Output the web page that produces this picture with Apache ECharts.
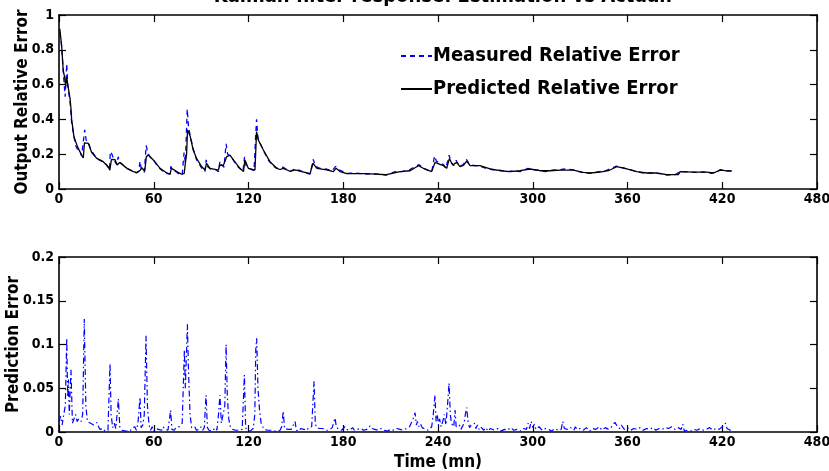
<!DOCTYPE html>
<html>
<head>
<meta charset="utf-8">
<script src="https://cdn.jsdelivr.net/npm/echarts@6/dist/echarts.min.js"></script>
<style>
html,body{margin:0;padding:0;background:#fff;}
#chart{width:829px;height:471px;}
</style>
</head>
<body>
<div id="chart"></div>
<script>
// ---- Data ----
const titleText = 'Kalman filter response: Estimation vs Actual.';
const xTicks = [0, 60, 120, 180, 240, 300, 360, 420, 480];
const topYTicks = [0, 0.2, 0.4, 0.6, 0.8, 1];
const bottomYTicks = [0, 0.05, 0.1, 0.15, 0.2];

const predictedT = [0.5,1.7,2.7,3.6,4.2,4.9,5.9,7,7.6,8,9.5,11.6,14.3,15.4,16.1,18.6,20.7,23.9,28,31.2,32.2,33.2,35.5,36.9,38.4,42.9,47,49.2,51.5,52.4,54.3,55.3,56.6,59.7,64,68.2,70.3,71.2,74.6,77.7,79.3,80,80.8,81.4,83,85,87.1,90.4,92.5,93.4,95.6,100.9,101.8,104,106.2,108.3,110.4,114.6,116.8,117.7,119.9,124.1,125.1,126.3,129.4,133.6,137.9,140,142,146.3,149.5,153.7,159,160.8,163.3,169.5,173.7,175.4,178,182.2,188,194.9,200,207.5,213.8,216,222.3,227.6,230.7,236,238.1,241.3,243.4,245.5,247.2,249.3,251.8,253.9,256,258.2,260.3,266.6,273,279.3,285.6,292,298.3,304.6,311,317.3,325.7,332,336.3,342.6,347.9,353.2,359.5,365.9,372.2,378.5,384.8,392.2,393.3,401.7,410.2,414.4,418.6,422,426];
const predictedV = [0.92,0.82,0.68,0.64,0.59,0.64,0.58,0.52,0.46,0.40,0.30,0.245,0.195,0.178,0.265,0.262,0.21,0.176,0.157,0.128,0.108,0.17,0.168,0.138,0.152,0.12,0.1,0.095,0.108,0.123,0.102,0.186,0.195,0.167,0.119,0.092,0.086,0.119,0.1,0.085,0.09,0.148,0.2,0.34,0.305,0.224,0.176,0.128,0.109,0.148,0.119,0.109,0.138,0.134,0.186,0.195,0.167,0.119,0.1,0.167,0.119,0.109,0.33,0.28,0.224,0.157,0.119,0.112,0.119,0.102,0.11,0.1,0.088,0.148,0.119,0.11,0.1,0.119,0.1,0.088,0.088,0.088,0.085,0.082,0.095,0.1,0.105,0.134,0.119,0.1,0.153,0.142,0.134,0.119,0.175,0.138,0.153,0.128,0.135,0.16,0.134,0.134,0.115,0.105,0.1,0.105,0.115,0.105,0.105,0.109,0.109,0.095,0.092,0.097,0.105,0.128,0.115,0.1,0.092,0.092,0.083,0.083,0.1,0.097,0.097,0.092,0.109,0.105,0.103];

const measuredT = [0.5,1.5,2.5,3.3,3.9,4.9,5.5,6.2,7,8,9.5,10.5,11.6,13,14.3,15.4,16.3,17.2,18.6,20,22,24,27,30,32,32.5,33.5,35,36.5,37.5,38.5,41,43,46,49,50.5,51.3,52,54,55.2,56.5,58,60,63,66,68,70.3,70.8,72,74,76,78,79.2,80,81.2,82,83,85,87,90,92.4,93.2,94,96,99,101,101.9,103,104.5,105.8,106.8,108.5,110.5,113,116.5,117.5,118.5,120,123.5,124.5,125.1,126,127,129.5,133,136,138,142,146,149.5,153,157,159,161,162.5,165,169,173,175.2,177,180,183,188,194,200,207,213,216,222,225.5,228,231,236,237.8,239,241,243.5,245,247,248.5,250,251.5,253.5,256,258,260,263,267,270,274,279,284,288,292,297,300,304,308,312,316,320,326,331,336,341,346,350,353,356,360,366,371,376,381,385,390,393.5,398,403,408,413,417,419,422,426];
const measuredV = [0.90,0.84,0.7,0.6,0.53,0.72,0.6,0.55,0.5,0.38,0.3,0.25,0.23,0.22,0.19,0.18,0.34,0.28,0.27,0.23,0.2,0.175,0.16,0.14,0.11,0.215,0.2,0.165,0.14,0.185,0.155,0.135,0.118,0.105,0.092,0.1,0.16,0.12,0.095,0.25,0.2,0.18,0.165,0.125,0.1,0.09,0.085,0.13,0.11,0.1,0.085,0.08,0.21,0.15,0.46,0.36,0.31,0.23,0.17,0.125,0.1,0.167,0.13,0.115,0.112,0.1,0.16,0.14,0.125,0.26,0.2,0.19,0.165,0.13,0.1,0.185,0.13,0.12,0.105,0.3,0.40,0.29,0.28,0.22,0.16,0.13,0.118,0.125,0.1,0.115,0.105,0.09,0.085,0.17,0.13,0.12,0.115,0.105,0.13,0.11,0.1,0.09,0.092,0.085,0.088,0.08,0.1,0.098,0.11,0.13,0.14,0.118,0.098,0.19,0.16,0.15,0.14,0.12,0.195,0.15,0.135,0.165,0.13,0.14,0.17,0.14,0.135,0.13,0.12,0.112,0.108,0.1,0.105,0.1,0.118,0.11,0.108,0.1,0.108,0.11,0.115,0.11,0.095,0.09,0.098,0.105,0.12,0.132,0.125,0.115,0.1,0.09,0.092,0.088,0.08,0.082,0.1,0.098,0.096,0.098,0.09,0.1,0.112,0.105,0.104];

const errorT = [0,1,2,3,4,4.9,5.5,6,6.5,7.6,8.5,9.5,10.5,11.5,12.5,14,15,16,17,18,19,20,21,22,23,24,25,26,27,28,29,30,31,32.3,33,34,35,36,37.6,38.5,40,41,42,43,45,46,47,48,49,50,51.3,52,53,54,55.1,56,57,58,59,60,61,62,63,64,65,66,67,68,69,70.7,71.5,72,73,74,75,76,77,78,79.4,80,81.3,82,83,84,85,86,87,88,89,90,91,92,93.1,94,95,96,97,98,99,100,101,101.9,102.8,104,105,105.8,106.6,107.5,108.5,110,111,112,113,114,115,116,117.4,118.2,119,120,121,122,123,124,124.6,125.2,126,127,128,129,130,131,132,133,134,135,136,137,138,139,140,141,142,142.8,144,145,146,147,148,149.5,150.3,151,152,153,154,155,156,157,158,159,160,161.5,162.3,163,164,165,166,167,168,169,170,171,172,173,174.8,175.6,176,177,178,179,180,181,182,183,184,185,186,187,188,189,190,191,192,193,194,195,196,197,198,199,200,202,204,206,208,210,212,214,216,218,220,222,224.4,225.5,226.3,227,228,229,230,231,232,233,234,235,236,237,238.1,238.8,239.5,240.3,241,242,243,244,245,246,247,247.8,248.5,249.3,250,250.8,251.5,252.5,253.5,254.5,255.5,256.5,257.3,258.2,259,260,261,262,263,264,265,266,267,268,269,270,271,272,273,274,276,278,280,282,284,286,288,290,292,294,296,297,298,299,300,301,302,304,306,308,310,312,314,316,318,319,320,322,324,326,327,328,330,332,334,336,338,340,342,344,346,348,350,351,352,353,354,355,356,358,360,362,364,366,368,370,372,374,376,378,380,382,384,386,388,390,392,394,395,396,398,400,402,404,406,408,410,412,414,416,418,420,421,422,423,424,425,426];
const errorV = [0.012,0.018,0.008,0.02,0.03,0.107,0.04,0.06,0.02,0.071,0.01,0.015,0.02,0.012,0.015,0.012,0.02,0.129,0.03,0.012,0.014,0.01,0.012,0.008,0.01,0.011,0.006,0.003,0.002,0.004,0.001,0.003,0.002,0.078,0.02,0.005,0.01,0.004,0.038,0.006,0.002,0.004,0.001,0.003,0.001,0.004,0.002,0.006,0.002,0.01,0.04,0.005,0.008,0.02,0.11,0.03,0.008,0.002,0.006,0.001,0.004,0.006,0.003,0.005,0.002,0.006,0.003,0.004,0.002,0.025,0.003,0.004,0.002,0.005,0.003,0.006,0.004,0.01,0.094,0.05,0.123,0.07,0.02,0.005,0.003,0.006,0.002,0.004,0.003,0.006,0.002,0.005,0.042,0.005,0.002,0.004,0.001,0.003,0.005,0.002,0.02,0.042,0.01,0.008,0.03,0.1,0.04,0.015,0.006,0.003,0.005,0.002,0.004,0.002,0.004,0.003,0.065,0.005,0.002,0.004,0.001,0.003,0.004,0.02,0.094,0.107,0.05,0.025,0.01,0.006,0.003,0.005,0.002,0.004,0.002,0.003,0.001,0.003,0.001,0.003,0.002,0.006,0.024,0.004,0.002,0.003,0.001,0.003,0.002,0.012,0.002,0.003,0.001,0.004,0.002,0.003,0.004,0.002,0.005,0.003,0.006,0.058,0.01,0.005,0.003,0.004,0.002,0.004,0.003,0.002,0.004,0.002,0.003,0.005,0.016,0.006,0.008,0.003,0.005,0.002,0.004,0.006,0.003,0.004,0.002,0.003,0.005,0.002,0.004,0.003,0.002,0.004,0.003,0.002,0.004,0.003,0.005,0.007,0.004,0.002,0.003,0.002,0.004,0.002,0.001,0.003,0.002,0.004,0.003,0.002,0.004,0.006,0.016,0.022,0.008,0.012,0.006,0.009,0.005,0.006,0.003,0.004,0.002,0.003,0.006,0.02,0.042,0.012,0.02,0.008,0.015,0.006,0.012,0.02,0.008,0.03,0.056,0.02,0.01,0.012,0.006,0.025,0.006,0.004,0.008,0.003,0.005,0.01,0.02,0.028,0.012,0.005,0.008,0.006,0.01,0.004,0.008,0.003,0.006,0.004,0.002,0.005,0.003,0.001,0.004,0.002,0.002,0.004,0.001,0.003,0.002,0.005,0.002,0.003,0.001,0.004,0.003,0.01,0.004,0.012,0.005,0.009,0.003,0.006,0.002,0.004,0.003,0.001,0.004,0.002,0.003,0.012,0.004,0.003,0.005,0.002,0.006,0.003,0.004,0.002,0.005,0.001,0.004,0.003,0.006,0.002,0.005,0.003,0.006,0.004,0.011,0.008,0.01,0.004,0.008,0.003,0.005,0.002,0.004,0.003,0.005,0.002,0.004,0.003,0.005,0.002,0.004,0.003,0.005,0.004,0.006,0.003,0.005,0.003,0.009,0.001,0.002,0.001,0.003,0.002,0.004,0.002,0.003,0.005,0.002,0.004,0.003,0.006,0.008,0.01,0.004,0.006,0.002,0.003];

const seriesNames = ['Measured Relative Error', 'Predicted Relative Error', 'Prediction Error'];

// ---- Build ----
const zip = (a, b) => a.map((t, i) => [t, b[i]]);
const FONT = "'DejaVu Sans Condensed', 'Liberation Sans', sans-serif";

function xAxisCfg(grid, pos, showLabel, name) {
  return {
    gridIndex: grid, type: 'value', position: pos,
    min: xTicks[0], max: xTicks[xTicks.length - 1], interval: xTicks[1] - xTicks[0],
    axisLine: { onZero: false, lineStyle: { color: '#000', width: 1.6 } },
    axisTick: { show: true, inside: true, length: 7, lineStyle: { color: '#000', width: 1.2 } },
    axisLabel: { show: showLabel, color: '#000', fontFamily: FONT, fontWeight: 'bold', fontSize: 14, margin: 3 },
    splitLine: { show: false },
    name: name || '', nameLocation: 'middle', nameGap: 22, nameMoveOverlap: false,
    nameTextStyle: { color: '#000', fontFamily: FONT, fontWeight: 'bold', fontSize: 17 }
  };
}
function yAxisCfg(grid, pos, ticks, showLabel, name, gap) {
  return {
    gridIndex: grid, type: 'value', position: pos,
    min: ticks[0], max: ticks[ticks.length - 1], interval: ticks[1] - ticks[0],
    axisLine: { onZero: false, lineStyle: { color: '#000', width: 1.6 } },
    axisTick: { show: true, inside: true, length: 7, lineStyle: { color: '#000', width: 1.2 } },
    axisLabel: { show: showLabel, color: '#000', fontFamily: FONT, fontWeight: 'bold', fontSize: 14, margin: 5 },
    splitLine: { show: false },
    name: name || '', nameLocation: 'middle', nameGap: gap || 0, nameRotate: 90, nameMoveOverlap: false,
    nameTextStyle: { color: '#000', fontFamily: FONT, fontWeight: 'bold', fontSize: 17 }
  };
}

const chart = echarts.init(document.getElementById('chart'), null, { renderer: 'canvas' });
chart.setOption({
  backgroundColor: '#fff',
  animation: false,
  title: {
    text: titleText, left: 438, top: -18, textAlign: 'center',
    textStyle: { color: '#000', fontFamily: FONT, fontWeight: 'bold', fontSize: 20 }
  },
  legend: {
    data: [seriesNames[0], seriesNames[1]],
    orient: 'vertical', left: 395, top: 41,
    itemWidth: 31, itemHeight: 14, itemGap: 13,
    itemStyle: { opacity: 0 },
    textStyle: { color: '#000', fontFamily: FONT, fontWeight: 'bold', fontSize: 20, padding: [0, 0, 0, -4] }
  },
  grid: [
    { left: 59, top: 15, width: 758, height: 174, outerBoundsMode: 'none', containLabel: false },
    { left: 59, top: 257, width: 758, height: 175, outerBoundsMode: 'none', containLabel: false }
  ],
  xAxis: [
    xAxisCfg(0, 'bottom', true),
    xAxisCfg(0, 'top', false),
    xAxisCfg(1, 'bottom', true, 'Time (mn)'),
    xAxisCfg(1, 'top', false)
  ],
  yAxis: [
    yAxisCfg(0, 'left', topYTicks, true, 'Output Relative Error', 28),
    yAxisCfg(0, 'right', topYTicks, false),
    yAxisCfg(1, 'left', bottomYTicks, true, 'Prediction Error', 37),
    yAxisCfg(1, 'right', bottomYTicks, false)
  ],
  series: [
    {
      name: seriesNames[0], type: 'line', xAxisIndex: 0, yAxisIndex: 0,
      data: zip(measuredT, measuredV), symbol: 'none', showSymbol: false,
      lineStyle: { color: '#0000ff', width: 1.3, type: [5, 4] }, itemStyle: { color: '#0000ff' }, z: 2
    },
    {
      name: seriesNames[1], type: 'line', xAxisIndex: 0, yAxisIndex: 0,
      data: zip(predictedT, predictedV), symbol: 'none', showSymbol: false,
      lineStyle: { color: '#000', width: 1.3 }, itemStyle: { color: '#000' }, z: 3
    },
    {
      name: seriesNames[2], type: 'line', xAxisIndex: 2, yAxisIndex: 2,
      data: zip(errorT, errorV), symbol: 'none', showSymbol: false,
      lineStyle: { color: '#0000ff', width: 1.2, type: [6, 3, 1.5, 3] }, itemStyle: { color: '#0000ff' }, z: 2
    }
  ]
});
</script>
</body>
</html>
